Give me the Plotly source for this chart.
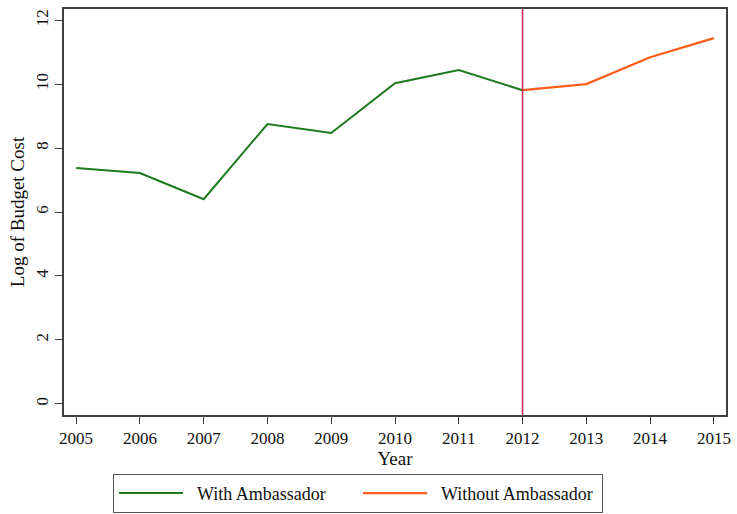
import plotly.graph_objects as go

years_with = [2005, 2006, 2007, 2008, 2009, 2010, 2011, 2012]
cost_with = [7.38, 7.22, 6.40, 8.75, 8.47, 10.03, 10.44, 9.81]
years_without = [2012, 2013, 2014, 2015]
cost_without = [9.81, 10.00, 10.84, 11.44]
event_year = 2012
x_ticks = list(range(2005, 2016))
y_ticks = [0, 2, 4, 6, 8, 10, 12]
series_names = ["With Ambassador", "Without Ambassador"]

font_family = "Liberation Serif, DejaVu Serif, serif"
pad = "\u00a0\u00a0"

fig = go.Figure()
fig.add_trace(go.Scatter(x=years_with, y=cost_with, mode="lines", name=pad + series_names[0],
                         line=dict(color="#1e7a1e", width=2)))
fig.add_trace(go.Scatter(x=years_without, y=cost_without, mode="lines",
                         name=pad + series_names[1] + "\u00a0\u00a0\u00a0",
                         line=dict(color="#ff5c1a", width=2.2)))

fig.add_shape(type="line", xref="x", yref="paper", x0=event_year, x1=event_year, y0=0, y1=1,
              line=dict(color="#d01e50", width=1.5))

fig.update_layout(
    width=737, height=514,
    margin=dict(l=64, r=11, t=9, b=99, autoexpand=False),
    paper_bgcolor="white", plot_bgcolor="white",
    font=dict(family=font_family, size=17, color="#111111"),
    showlegend=True,
    legend=dict(orientation="h", x=0.074, xanchor="left", y=-0.145, yanchor="top",
                bordercolor="#555555", borderwidth=1, font=dict(size=18),
                itemwidth=64,
                entrywidth=165, entrywidthmode="pixels", traceorder="normal"),
)
fig.update_xaxes(range=[2004.81, 2015.19], tickvals=x_ticks, ticktext=[str(v) for v in x_ticks],
                 automargin=False,
                 showgrid=False, zeroline=False, showline=True, mirror=True,
                 linecolor="#404040", linewidth=1.5, ticks="outside", ticklen=7, tickcolor="#404040",
                 title=dict(text="Year", standoff=0, font=dict(size=19)))
fig.update_yaxes(range=[-0.35, 12.35], tickvals=y_ticks, ticktext=[str(v) for v in y_ticks],
                 tickangle=-90, automargin=False,
                 showgrid=False, zeroline=False, showline=True, mirror=True,
                 linecolor="#404040", linewidth=1.5, ticks="outside", ticklen=7, tickcolor="#404040",
                 title=dict(text="Log of Budget Cost", standoff=4, font=dict(size=19)))

fig.write_html("out.html", post_script="document.body.style.margin='0';",
               config={"displayModeBar": False})
